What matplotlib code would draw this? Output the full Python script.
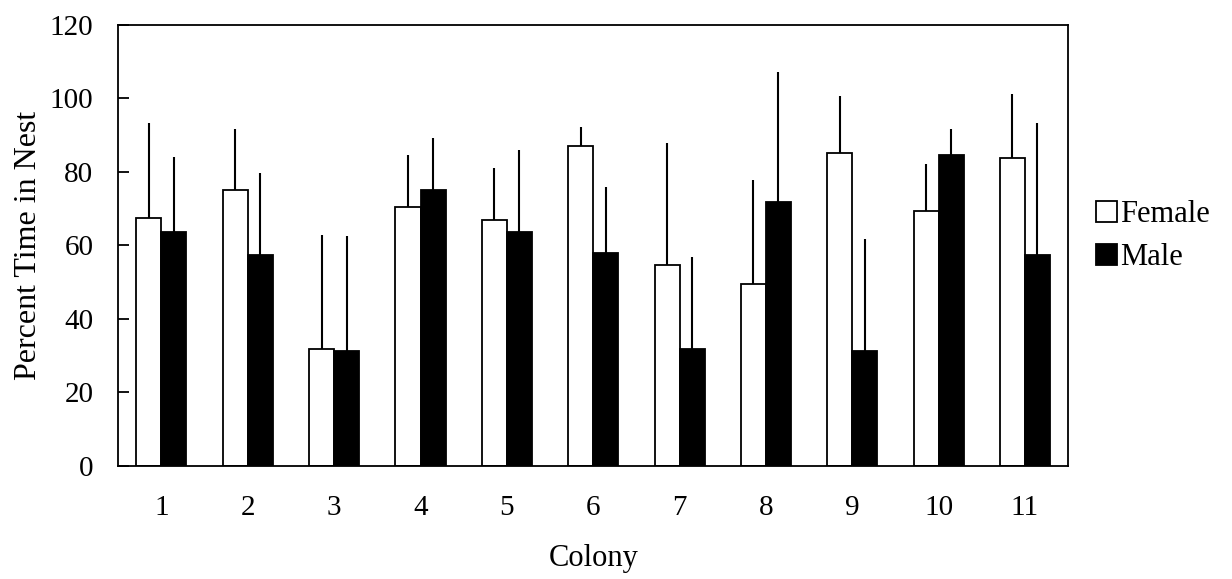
import numpy as np
import matplotlib
matplotlib.use("Agg")
import matplotlib.pyplot as plt

plt.rcParams['font.family'] = ['Liberation Serif', 'DejaVu Serif']

colonies = ["1", "2", "3", "4", "5", "6", "7", "8", "9", "10", "11"]
female = [67.3, 75.0, 31.8, 70.5, 66.8, 87.0, 54.6, 49.5, 85.0, 69.2, 83.8]
female_err = [26.1, 16.6, 31.1, 14.1, 14.1, 5.3, 33.2, 28.2, 15.5, 12.8, 17.3]
male = [63.7, 57.3, 31.3, 75.0, 63.7, 57.9, 31.8, 71.9, 31.3, 84.6, 57.3]
male_err = [20.3, 22.3, 31.1, 14.1, 22.2, 17.9, 24.9, 35.2, 30.5, 7.0, 36.1]

x = np.arange(1, len(colonies) + 1)
w = 0.29

fig = plt.figure(figsize=(12.32, 5.79), dpi=100)
ax = fig.add_axes([0.096, 0.196, 0.771, 0.761])

ax.bar(x - w / 2, female, width=w, color="white", edgecolor="black", linewidth=1.3, label="Female", zorder=2)
ax.bar(x + w / 2, male, width=w, color="black", edgecolor="black", linewidth=1.3, label="Male", zorder=2)

# one-sided error bars (upper only)
ax.errorbar(x - w / 2, female, yerr=[np.zeros(len(female)), female_err], fmt="none",
            ecolor="black", elinewidth=1.5, capsize=0, zorder=1)
ax.errorbar(x + w / 2, male, yerr=[np.zeros(len(male)), male_err], fmt="none",
            ecolor="black", elinewidth=1.5, capsize=0, zorder=1)

ax.set_xlim(0.5, 11.5)
ax.set_ylim(0, 120)
ax.set_yticks(np.arange(0, 121, 20))
ax.set_xticks(x)
ax.set_xticklabels(colonies)
ax.tick_params(axis="y", direction="in", length=8, width=1.3, labelsize=21, pad=18)
ax.tick_params(axis="x", length=0, labelsize=21, pad=21)
for s in ax.spines.values():
    s.set_linewidth(1.3)

ax.set_xlabel("Colony", fontsize=22, labelpad=17)
ax.set_ylabel("Percent Time in Nest", fontsize=23, labelpad=5)

fig.legend(loc="center left", bbox_to_anchor=(0.877, 0.592), frameon=False, fontsize=22,
           handlelength=0.7, handleheight=0.7, handletextpad=0.1, labelspacing=0.47, borderpad=0)

plt.savefig("out.png", dpi=100)
plt.close()
